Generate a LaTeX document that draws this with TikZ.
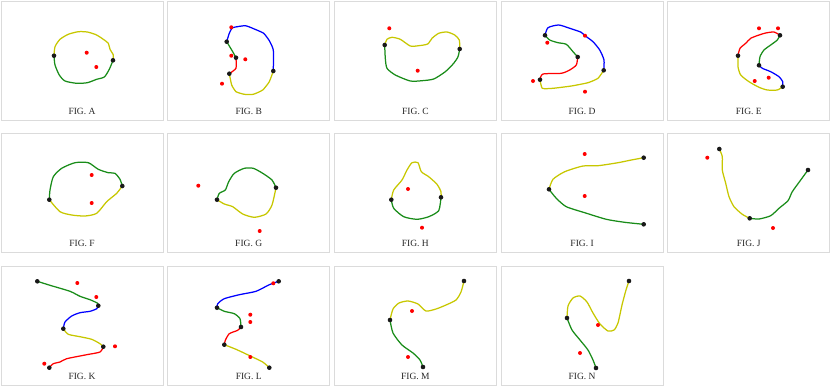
\documentclass[tikz,border=0pt]{standalone}
\usepackage{fontspec}
\setmainfont{Liberation Serif}
\definecolor{cy}{rgb}{0.78,0.78,0.0}
\definecolor{cg}{rgb}{0.1,0.55,0.1}
\definecolor{cb}{rgb}{0.0,0.0,1.0}
\definecolor{cr}{rgb}{1.0,0.0,0.0}
\definecolor{framecol}{rgb}{0.86,0.86,0.86}
\tikzset{
  frame/.style={draw=framecol, line width=0.9pt},
  caption/.style={font=\fontsize{9.5}{11}\selectfont, text=black!85, inner sep=0pt},
  curve/.style={line width=1.25pt, line join=round, line cap=round},
  ycurve/.style={curve, cy},
  gcurve/.style={curve, cg},
  bcurve/.style={curve, cb},
  rcurve/.style={curve, cr},
  bdot/.style={fill=black!90},
  rdot/.style={fill=cr},
}
\newcommand\figpanel[3]{%
  \draw[frame] (#1,#2) rectangle ++(162,119);
  \node[caption] at ($(#1,#2)+(81,110)$) {#3};
}
\usetikzlibrary{calc}
\begin{document}
\begin{tikzpicture}[x=1pt,y=-1pt]
\useasboundingbox (0,0) rectangle (830,389);
% frames
\figpanel{1}{1}{FIG. A}
\figpanel{167.7}{1}{FIG. B}
\figpanel{334.4}{1}{FIG. C}
\figpanel{501.1}{1}{FIG. D}
\figpanel{667.8}{1}{FIG. E}
\figpanel{1}{133}{FIG. F}
\figpanel{167.7}{133}{FIG. G}
\figpanel{334.4}{133}{FIG. H}
\figpanel{501.1}{133}{FIG. I}
\figpanel{667.8}{133}{FIG. J}
\figpanel{1}{266}{FIG. K}
\figpanel{167.7}{266}{FIG. L}
\figpanel{334.4}{266}{FIG. M}
\figpanel{501.1}{266}{FIG. N}

% ---------- A ----------
\coordinate (a1) at (54,55.7);
\coordinate (a2) at (113,60.3);
\draw[ycurve] plot[smooth,tension=0.4] coordinates {(a1) (55,46.7) (60,39.3) (68.3,34.3) (78.3,31.7) (87.3,32) (96,34.7) (103.3,39.3) (108.3,43.3) (110,49.3) (113.3,55) (a2)};
\draw[gcurve] plot[smooth,tension=0.4] coordinates {(a1) (55,65) (59.3,75) (65,81) (76.7,83.3) (87.3,82.7) (96.7,79.3) (104.3,77) (109.3,69.3) (a2)};
\fill[rdot] (86.7,52.7) circle (2); \fill[rdot] (96.3,67) circle (2);
\fill[bdot] (a1) circle (2.3); \fill[bdot] (a2) circle (2.3);

% ---------- B ----------
\coordinate (b1) at (226.7,41.7);
\coordinate (b2) at (236,57.7);
\coordinate (b3) at (229.3,73.7);
\coordinate (b4) at (273.3,71);
\draw[bcurve] plot[smooth,tension=0.3] coordinates {(b1) (229.3,33.3) (232.7,27.7) (245.3,25.7) (254.3,29) (263.7,33.3) (269.3,40.7) (273.3,50) (b4)};
\draw[gcurve] plot[smooth,tension=0.3] coordinates {(b1) (232.7,51.7) (b2)};
\draw[rcurve] plot[smooth,tension=0.3] coordinates {(b2) (236,68.3) (b3)};
\draw[ycurve] plot[smooth,tension=0.3] coordinates {(b3) (231.7,85) (236,91.7) (244.3,94.3) (253.3,94.3) (262.7,90) (269.3,81.7) (b4)};
\fill[rdot] (231.3,27.3) circle (2); \fill[rdot] (231.3,55.7) circle (2);
\fill[rdot] (245.3,59.3) circle (2); \fill[rdot] (222,83.7) circle (2);
\foreach \p in {b1,b2,b3,b4} \fill[bdot] (\p) circle (2.3);

% ---------- C ----------
\coordinate (c1) at (384.7,45);
\coordinate (c2) at (459.7,49);
\draw[ycurve] plot[smooth,tension=0.4] coordinates {(c1) (387,39.3) (392,37.3) (400.3,39.3) (410.3,46) (418.7,45.7) (427.7,44) (432,38.3) (438.7,33.3) (447,32) (454.7,35) (459.3,40) (c2)};
\draw[gcurve] plot[smooth,tension=0.4] coordinates {(c1) (385.3,58.3) (387,68.3) (395.3,75) (410.3,81) (422,80.7) (433.7,79) (445.3,71.7) (453.7,63.3) (458,56.7) (c2)};
\fill[rdot] (389.3,28.3) circle (2); \fill[rdot] (417.7,70.7) circle (2);
\fill[bdot] (c1) circle (2.3); \fill[bdot] (c2) circle (2.3);

% ---------- D ----------
\coordinate (d1) at (545,35.3);
\coordinate (d2) at (577.7,57);
\coordinate (d3) at (603.7,70.3);
\coordinate (d4) at (540,79.7);
\draw[bcurve] plot[smooth,tension=0.4] coordinates {(d1) (548,27.7) (558.7,25) (569.7,28.3) (581.3,32.3) (585,35.7) (593,41.7) (599.7,50) (604,60) (d3)};
\draw[gcurve] plot[smooth,tension=0.4] coordinates {(d1) (549.7,40) (558,42.7) (566.3,44.3) (573,51.7) (d2)};
\draw[rcurve] plot[smooth,tension=0.4] coordinates {(d2) (576.3,65) (569.7,70) (561.3,73.3) (543,74) (d4)};
\draw[ycurve] plot[smooth,tension=0.3] coordinates {(d4) (542.3,88.3) (553,88.3) (571.3,86) (588,82.7) (598,78.3) (d3)};
\fill[rdot] (585,35.7) circle (2); \fill[rdot] (547.3,42.7) circle (2);
\fill[rdot] (533,81) circle (2); \fill[rdot] (585,91.7) circle (2);
\foreach \p in {d1,d2,d3,d4} \fill[bdot] (\p) circle (2.3);

% ---------- E ----------
\coordinate (e1) at (780,35.3);
\coordinate (e2) at (738,55.7);
\coordinate (e3) at (759,65.3);
\coordinate (e4) at (782.7,86.7);
\draw[rcurve] plot[smooth,tension=0.4] coordinates {(e2) (740,48.3) (745.7,43.3) (750.7,38.3) (759,35) (765.7,33) (774,32) (e1)};
\draw[gcurve] plot[smooth,tension=0.4] coordinates {(e1) (777.3,40) (770.7,45) (764,50) (760,56.7) (e3)};
\draw[bcurve] plot[smooth,tension=0.4] coordinates {(e3) (762.3,68.3) (770.7,71.7) (779,76.7) (782.7,81.7) (e4)};
\draw[ycurve] plot[smooth,tension=0.4] coordinates {(e2) (738,66.7) (740.7,75) (749,81.7) (759,87.3) (767.3,90) (777.3,90) (e4)};
\fill[rdot] (759,28.3) circle (2); \fill[rdot] (778,28.3) circle (2);
\fill[rdot] (754.7,81) circle (2); \fill[rdot] (768.7,77.7) circle (2);
\foreach \p in {e1,e2,e3,e4} \fill[bdot] (\p) circle (2.3);

% ---------- F ----------
\coordinate (f1) at (49.3,199.7);
\coordinate (f2) at (122.3,186);
\draw[gcurve] plot[smooth,tension=0.4] coordinates {(f1) (50,190) (53.3,176.7) (61.7,168.3) (75,162.7) (88.3,162.7) (98.3,169.3) (108.3,172.7) (115,173.3) (120,179.3) (f2)};
\draw[ycurve] plot[smooth,tension=0.4] coordinates {(f1) (60,211.7) (71.7,215) (85,216) (96.7,213.3) (106.7,201.7) (116.7,193.3) (f2)};
\fill[rdot] (91.7,175) circle (2); \fill[rdot] (91.7,203) circle (2);
\fill[bdot] (f1) circle (2.3); \fill[bdot] (f2) circle (2.3);

% ---------- G ----------
\coordinate (g1) at (217,199.7);
\coordinate (g2) at (276,187.7);
\draw[gcurve] plot[smooth,tension=0.4] coordinates {(g1) (219.3,193.3) (225.3,190) (228.7,181.7) (234.3,173.3) (244.3,168.3) (253.3,168.3) (262.7,173.3) (272,180) (g2)};
\draw[ycurve] plot[smooth,tension=0.4] coordinates {(g1) (224.3,204) (232.7,206.7) (242.7,214) (254.3,217.3) (266,214) (272,205) (g2)};
\fill[rdot] (198.3,185.7) circle (2); \fill[rdot] (259.7,231) circle (2);
\fill[bdot] (g1) circle (2.3); \fill[bdot] (g2) circle (2.3);

% ---------- H ----------
\coordinate (h1) at (391.3,199.7);
\coordinate (h2) at (441,197.3);
\draw[ycurve] plot[smooth,tension=0.4] coordinates {(h1) (393.7,190) (402,180) (407,170) (412,162.7) (418,162.7) (421.3,171.7) (428.7,176.7) (437,184.3) (441,191.7) (h2)};
\draw[gcurve] plot[smooth,tension=0.4] coordinates {(h1) (393.7,208.3) (403.7,216.7) (417,219.3) (428.7,216.7) (438.7,210.7) (h2)};
\fill[rdot] (408,189) circle (2); \fill[rdot] (422,227.7) circle (2);
\fill[bdot] (h1) circle (2.3); \fill[bdot] (h2) circle (2.3);

% ---------- I ----------
\coordinate (i1) at (549,189.3);
\coordinate (i2) at (643.7,157.7);
\coordinate (i3) at (643.7,224.3);
\draw[ycurve] plot[smooth,tension=0.4] coordinates {(i1) (553,179.3) (564.7,171.7) (583,166) (598,165.7) (618,162.7) (631.3,160) (i2)};
\draw[gcurve] plot[smooth,tension=0.4] coordinates {(i1) (556.3,198.3) (566.3,206.7) (584.7,212.7) (606.3,219.3) (624.7,222.3) (i3)};
\fill[rdot] (584.7,154) circle (2); \fill[rdot] (584.7,196) circle (2);
\foreach \p in {i1,i2,i3} \fill[bdot] (\p) circle (2.3);

% ---------- J ----------
\coordinate (j1) at (719.3,149);
\coordinate (j2) at (749.7,218.3);
\coordinate (j3) at (808,170);
\draw[ycurve] plot[smooth,tension=0.4] coordinates {(j1) (722.3,156.7) (722.3,170) (725.7,183.3) (729,196.7) (734,206.7) (742.3,214.3) (j2)};
\draw[gcurve] plot[smooth,tension=0.4] coordinates {(j2) (759,219) (770.7,215.7) (779,208.3) (788,200.7) (792.3,191.7) (800.7,180) (j3)};
\fill[rdot] (707.3,157.7) circle (2); \fill[rdot] (773,228) circle (2);
\foreach \p in {j1,j2,j3} \fill[bdot] (\p) circle (2.3);

% ---------- K ----------
\coordinate (k1) at (37.3,281.3);
\coordinate (k2) at (98.3,305.7);
\coordinate (k3) at (63.3,328.7);
\coordinate (k4) at (103.3,346.7);
\coordinate (k5) at (49.3,367.7);
\draw[gcurve] plot[smooth,tension=0.4] coordinates {(k1) (50,285.3) (70,291.3) (80,296.3) (90,299.7) (97.5,303.2) (k2)};
\draw[bcurve] plot[smooth,tension=0.4] coordinates {(k2) (96.7,308.7) (90,311.3) (80,312.7) (71.7,316) (65,322) (k3)};
\draw[ycurve] plot[smooth,tension=0.4] coordinates {(k3) (68.3,334.3) (80,336.7) (91.7,339.3) (100,343.7) (k4)};
\draw[rcurve] plot[smooth,tension=0.4] coordinates {(k4) (100,352) (86.7,354.7) (66.7,358.7) (60,362) (53.3,363.7) (k5)};
\fill[rdot] (77.3,283) circle (2); \fill[rdot] (96.3,297) circle (2);
\fill[rdot] (115,346.3) circle (2); \fill[rdot] (44.3,363.7) circle (2);
\foreach \p in {k1,k2,k3,k4,k5} \fill[bdot] (\p) circle (2.3);

% ---------- L ----------
\coordinate (l1) at (278.7,281.3);
\coordinate (l2) at (217,307.7);
\coordinate (l3) at (241,327);
\coordinate (l4) at (224.3,344.7);
\coordinate (l5) at (269.3,367.7);
\draw[bcurve] plot[smooth,tension=0.4] coordinates {(l1) (269.3,284.7) (256,291.3) (239.3,294.7) (224.3,298.7) (217.7,303.7) (l2)};
\draw[gcurve] plot[smooth,tension=0.4] coordinates {(l2) (224.3,311.3) (234.3,313.7) (240,318.7) (l3)};
\draw[rcurve] plot[smooth,tension=0.4] coordinates {(l3) (237.7,330.3) (229.3,333.7) (225.3,340.3) (l4)};
\draw[ycurve] plot[smooth,tension=0.4] coordinates {(l4) (236,349.3) (250.3,356) (262.7,362) (l5)};
\fill[rdot] (273.3,283.3) circle (2); \fill[rdot] (250.3,314.7) circle (2);
\fill[rdot] (250.3,322) circle (2); \fill[rdot] (250.3,357) circle (2);
\foreach \p in {l1,l2,l3,l4,l5} \fill[bdot] (\p) circle (2.3);

% ---------- M ----------
\coordinate (m1) at (390,320);
\coordinate (m2) at (423,367);
\coordinate (m3) at (464,281);
\draw[ycurve] plot[smooth,tension=0.4] coordinates {(m1) (393,309) (399,303) (408,301) (418,304) (426,311) (436,309) (446,305) (456,300) (461,292) (m3)};
\draw[gcurve] plot[smooth,tension=0.4] coordinates {(m1) (393,333) (402,345) (413,353) (420,360) (m2)};
\fill[rdot] (412,311) circle (2); \fill[rdot] (408,357) circle (2);
\foreach \p in {m1,m2,m3} \fill[bdot] (\p) circle (2.3);

% ---------- N ----------
\coordinate (n1) at (567,318);
\coordinate (n2) at (596,368);
\coordinate (n3) at (629,281);
\draw[ycurve] plot[smooth,tension=0.4] coordinates {(n1) (568,306) (573,298) (580,296) (587,302) (593,313) (600,324) (608,331) (614,330) (618,323) (622,305) (626,290) (n3)};
\draw[gcurve] plot[smooth,tension=0.4] coordinates {(n1) (572,330) (580,340) (588,350) (593,360) (n2)};
\fill[rdot] (598,325) circle (2); \fill[rdot] (580,353) circle (2);
\foreach \p in {n1,n2,n3} \fill[bdot] (\p) circle (2.3);
\end{tikzpicture}
\end{document}
